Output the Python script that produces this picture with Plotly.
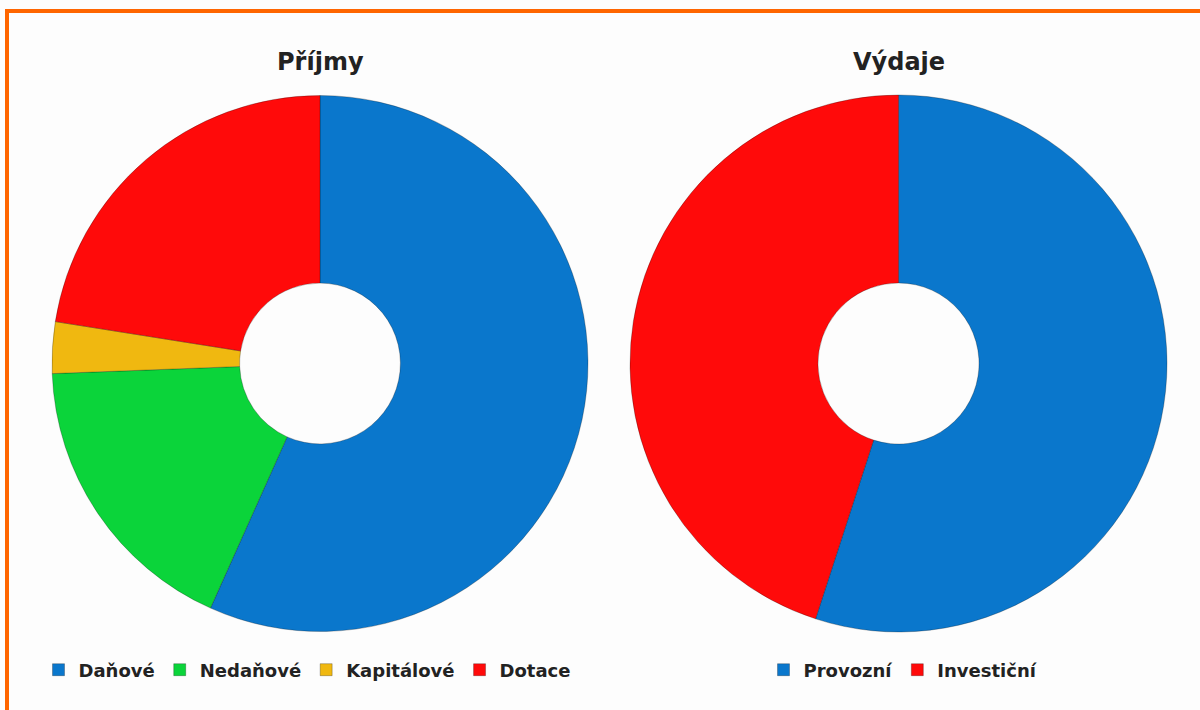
import plotly.graph_objects as go

# Data
income_labels = ["Daňové", "Nedaňové", "Kapitálové", "Dotace"]
income_values = [56.7, 17.7, 3.1, 22.5]
income_colors = ["#0A77CC", "#0BD43A", "#F0B810", "#FF0A0A"]

expense_labels = ["Provozní", "Investiční"]
expense_values = [55.0, 45.0]
expense_colors = ["#0A77CC", "#FF0A0A"]

titles = ["Příjmy", "Výdaje"]

W, H = 1200, 710

def px_x(v):
    return v / W

def px_y(v):
    return (H - v) / H

fig = go.Figure()

fig.add_trace(go.Pie(
    labels=income_labels, values=income_values,
    marker=dict(colors=income_colors, line=dict(color="rgba(0,0,0,0.25)", width=1)),
    hole=0.30, sort=False, direction="clockwise", rotation=0,
    textinfo="none", hoverinfo="label+percent",
    domain=dict(x=[px_x(52), px_x(588)], y=[px_y(632), px_y(95)]),
    legend="legend",
))

fig.add_trace(go.Pie(
    labels=expense_labels, values=expense_values,
    marker=dict(colors=expense_colors, line=dict(color="rgba(0,0,0,0.25)", width=1)),
    hole=0.30, sort=False, direction="clockwise", rotation=0,
    textinfo="none", hoverinfo="label+percent",
    domain=dict(x=[px_x(630), px_x(1167)], y=[px_y(632), px_y(95)]),
    legend="legend2",
))

title_font = dict(family="DejaVu Sans", size=24, color="#222222", weight="bold")
for t, cx in zip(titles, [320, 899]):
    fig.add_annotation(text=t, x=px_x(cx), y=px_y(62), xref="paper", yref="paper",
                       xanchor="center", yanchor="middle", showarrow=False, font=title_font)

legend_font = dict(family="DejaVu Sans", size=18, color="#222222", weight="bold")
fig.update_layout(
    width=W, height=H,
    margin=dict(l=0, r=0, t=0, b=0),
    paper_bgcolor="#FDFDFD",
    plot_bgcolor="#FDFDFD",
    showlegend=True,
    legend=dict(orientation="h", x=px_x(307), y=px_y(670), xanchor="center", yanchor="middle",
                font=legend_font, bgcolor="rgba(0,0,0,0)", itemclick=False, traceorder="normal"),
    legend2=dict(orientation="h", x=px_x(903), y=px_y(670), xanchor="center", yanchor="middle",
                 font=legend_font, bgcolor="rgba(0,0,0,0)", itemclick=False, traceorder="normal"),
    shapes=[dict(type="rect", xref="paper", yref="paper",
                 x0=px_x(7), x1=1.02, y0=-0.02, y1=px_y(11),
                 line=dict(color="#FF6600", width=4), fillcolor="rgba(0,0,0,0)")],
)

fig.write_html("out.html", config={"displayModeBar": False},
               post_script="document.body.style.margin='0';")
